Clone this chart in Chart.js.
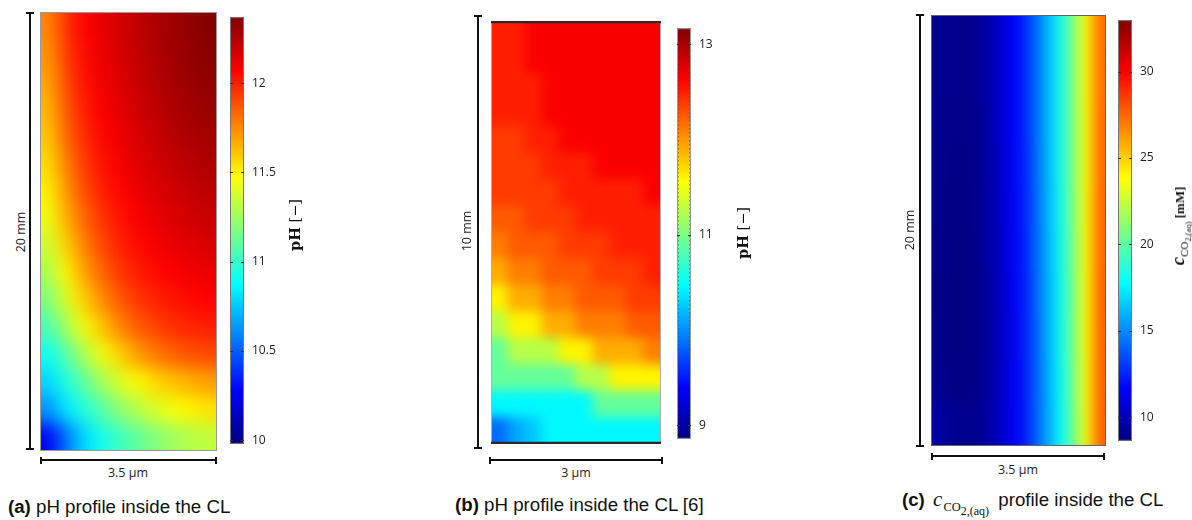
<!DOCTYPE html>
<html>
<head>
<meta charset="utf-8">
<script src="https://cdn.jsdelivr.net/npm/chart.js@4.4.1/dist/chart.umd.min.js"></script>
<style>
  body { margin: 0; background: #fff; }
  #page { position: relative; width: 1192px; height: 520px; overflow: hidden; font-family: "Open Sans", sans-serif; color: #222; }
  canvas { position: absolute; }
  .ln { position: absolute; background: #111; }
  .lbl { position: absolute; white-space: nowrap; line-height: 1; font-size: 12.5px; transform: translate(-50%, -50%); }
  .rot { transform: translate(-50%, -50%) rotate(-90deg); }
  .ttl { font-family: "DejaVu Serif", serif; font-size: 14.5px; color: #111; }
  .ttlc { font-family: "Liberation Serif", serif; color: #111; font-size: 13px; }
  .ttlc i { font-size: 19px; }
  .ttlc .s1 { font-size: 11px; vertical-align: -0.35em; }
  .ttlc .s2 { font-size: 8.5px; vertical-align: -0.3em; }
  .cap { position: absolute; white-space: nowrap; line-height: 1; font-family: "Liberation Sans", Arial, sans-serif; font-size: 18.7px; color: #111; transform: translateY(-50%); }
  .cap .c { font-family: "Liberation Serif", serif; font-style: italic; font-size: 21px; margin: 0 1px 0 3px; }
  .cap .s1 { font-family: "Liberation Serif", serif; font-size: 12.5px; vertical-align: -0.4em; margin-right: 4px; }
  .cap .s2 { font-size: 12px; vertical-align: -0.3em; }
</style>
</head>
<body>
<div id="page">
  <canvas id="heatA" width="177" height="439" style="left:40px;top:12px"></canvas>
  <canvas id="barA" width="58" height="457" style="left:230px;top:2px"></canvas>
  <canvas id="heatB" width="170" height="423" style="left:491px;top:21px"></canvas>
  <canvas id="barB" width="58" height="441" style="left:677px;top:13px"></canvas>
  <canvas id="heatC" width="175" height="431" style="left:931px;top:15px"></canvas>
  <canvas id="barC" width="58" height="451" style="left:1118px;top:5px"></canvas>

  <div class="lbl rot" style="left:21px;top:232px">20 mm</div>
  <div class="lbl" style="left:128px;top:473px">3.5 µm</div>
  <div class="lbl rot ttl" style="left:295px;top:225px"><b>pH</b> [−]</div>
  <div class="cap" style="left:8px;top:507px"><b>(a)</b> pH profile inside the CL</div>

  <div class="lbl rot" style="left:467px;top:231px">10 mm</div>
  <div class="lbl" style="left:576px;top:473px">3 µm</div>
  <div class="lbl rot ttl" style="left:743px;top:233px"><b>pH</b> [−]</div>
  <div class="cap" style="left:455px;top:505px"><b>(b)</b> pH profile inside the CL [6]</div>

  <div class="lbl rot" style="left:910px;top:230px">20 mm</div>
  <div class="lbl" style="left:1018px;top:470px">3.5 µm</div>
  <div class="lbl rot ttlc" style="left:1180px;top:226px"><b><i>c</i></b><span class="s1">CO<span class="s2">2,(aq)</span></span> <b>[mM]</b></div>
  <div class="cap" style="left:902px;top:503px"><b>(c)</b> <span class="c">c</span><span class="s1">CO<span class="s2">2,(aq)</span></span> profile inside the CL</div>
</div>

<script>
// pH inside the CL, panel (a): rows top -> bottom, columns left -> right
const PH_A_RANGE = [9.98, 12.37];
const PH_A_TICKS = [10, 10.5, 11, 11.5, 12];
const PH_A = [
  [11.75, 11.95, 12.07, 12.12, 12.17, 12.22, 12.26, 12.30, 12.33, 12.36],
  [11.72, 11.93, 12.05, 12.11, 12.16, 12.21, 12.25, 12.29, 12.32, 12.35],
  [11.68, 11.90, 12.03, 12.10, 12.15, 12.20, 12.24, 12.28, 12.31, 12.33],
  [11.64, 11.87, 12.00, 12.08, 12.13, 12.18, 12.22, 12.26, 12.29, 12.31],
  [11.60, 11.83, 11.97, 12.06, 12.11, 12.16, 12.20, 12.24, 12.27, 12.29],
  [11.55, 11.78, 11.93, 12.03, 12.09, 12.14, 12.18, 12.21, 12.24, 12.26],
  [11.50, 11.72, 11.89, 12.00, 12.06, 12.11, 12.15, 12.18, 12.21, 12.23],
  [11.44, 11.66, 11.83, 11.95, 12.03, 12.08, 12.12, 12.15, 12.18, 12.20],
  [11.36, 11.58, 11.77, 11.90, 11.99, 12.05, 12.09, 12.12, 12.14, 12.16],
  [11.27, 11.49, 11.69, 11.83, 11.94, 12.00, 12.05, 12.08, 12.10, 12.12],
  [11.17, 11.39, 11.58, 11.74, 11.86, 11.94, 11.99, 12.03, 12.05, 12.07],
  [11.05, 11.25, 11.45, 11.61, 11.75, 11.85, 11.91, 11.96, 11.99, 12.00],
  [10.90, 11.08, 11.27, 11.44, 11.58, 11.70, 11.78, 11.84, 11.88, 11.90],
  [10.78, 10.95, 11.10, 11.25, 11.38, 11.48, 11.56, 11.62, 11.66, 11.70],
  [10.62, 10.82, 10.95, 11.08, 11.20, 11.30, 11.38, 11.45, 11.50, 11.54],
  [10.25, 10.55, 10.78, 10.92, 11.02, 11.10, 11.18, 11.25, 11.30, 11.33]
];

// pH inside the CL [6], panel (b): contour bands
const PH_B_RANGE = [8.86, 13.17];
const PH_B_TICKS = [9, 11, 13];
const PH_B = [
  [12.50, 12.50, 12.65, 12.65, 12.65, 12.65, 12.65, 12.65, 12.65, 12.65],
  [12.50, 12.50, 12.65, 12.65, 12.65, 12.65, 12.65, 12.65, 12.65, 12.65],
  [12.50, 12.50, 12.50, 12.65, 12.65, 12.65, 12.65, 12.65, 12.65, 12.65],
  [12.50, 12.50, 12.50, 12.65, 12.65, 12.65, 12.65, 12.65, 12.65, 12.65],
  [12.38, 12.38, 12.50, 12.50, 12.65, 12.65, 12.65, 12.65, 12.65, 12.65],
  [12.38, 12.38, 12.38, 12.50, 12.50, 12.50, 12.65, 12.65, 12.65, 12.65],
  [12.38, 12.38, 12.38, 12.38, 12.50, 12.50, 12.50, 12.50, 12.50, 12.65],
  [12.25, 12.25, 12.38, 12.38, 12.38, 12.50, 12.50, 12.50, 12.50, 12.50],
  [12.10, 12.25, 12.25, 12.25, 12.38, 12.38, 12.38, 12.50, 12.50, 12.50],
  [11.90, 12.10, 12.10, 12.25, 12.25, 12.25, 12.38, 12.38, 12.38, 12.50],
  [11.60, 11.90, 11.90, 12.10, 12.10, 12.25, 12.25, 12.25, 12.38, 12.38],
  [11.25, 11.60, 11.60, 11.90, 11.90, 12.10, 12.10, 12.10, 12.25, 12.25],
  [10.90, 11.25, 11.25, 11.25, 11.60, 11.60, 11.90, 11.90, 11.90, 12.10],
  [10.90, 10.90, 10.90, 10.90, 10.90, 11.25, 11.25, 11.60, 11.60, 11.60],
  [10.45, 10.45, 10.45, 10.45, 10.45, 10.45, 10.90, 10.90, 10.90, 10.90],
  [9.85, 10.10, 10.25, 10.45, 10.45, 10.45, 10.45, 10.45, 10.45, 10.45]
];

// CO2(aq) concentration in mM, panel (c)
const CO2_C_RANGE = [8.63, 32.98];
const CO2_C_TICKS = [10, 15, 20, 25, 30];
const CO2_C = [
  [9.00, 8.90, 8.85, 8.95, 9.50, 10.40, 11.40, 12.45, 14.30, 16.20, 18.30, 21.00, 23.80, 27.40],
  [9.00, 8.90, 8.85, 8.95, 9.50, 10.40, 11.40, 12.45, 14.30, 16.20, 18.30, 21.00, 23.80, 27.40],
  [9.00, 8.85, 8.80, 8.90, 9.45, 10.35, 11.40, 12.45, 14.30, 16.20, 18.30, 21.00, 23.80, 27.50],
  [8.95, 8.80, 8.75, 8.85, 9.40, 10.30, 11.35, 12.40, 14.25, 16.20, 18.30, 21.00, 23.80, 27.50],
  [8.95, 8.75, 8.70, 8.80, 9.35, 10.25, 11.30, 12.35, 14.20, 16.15, 18.25, 21.00, 23.85, 27.60],
  [8.90, 8.72, 8.68, 8.78, 9.30, 10.20, 11.25, 12.30, 14.20, 16.10, 18.20, 20.95, 23.85, 27.60],
  [8.90, 8.70, 8.65, 8.75, 9.25, 10.15, 11.20, 12.25, 14.15, 16.05, 18.15, 20.90, 23.85, 27.70],
  [8.95, 8.70, 8.65, 8.75, 9.20, 10.10, 11.15, 12.20, 14.10, 16.00, 18.10, 20.90, 23.85, 27.70],
  [9.05, 8.80, 8.72, 8.78, 9.25, 10.15, 11.20, 12.20, 14.05, 15.95, 18.00, 20.80, 23.80, 27.70],
  [9.60, 9.15, 8.95, 8.95, 9.35, 10.20, 11.20, 12.20, 14.00, 15.90, 17.90, 20.70, 23.70, 27.70]
];

const JET_STOPS = [[0, '#000080'], [0.125, '#0000ff'], [0.375, '#00ffff'], [0.625, '#ffff00'], [0.875, '#ff0000'], [1, '#800000']];

function jet(v, range) {
  const t = Math.min(1, Math.max(0, (v - range[0]) / (range[1] - range[0])));
  const ch = k => Math.round(255 * Math.min(1, Math.max(0, 1.5 - Math.abs(4 * t - k))));
  return 'rgb(' + ch(3) + ',' + ch(2) + ',' + ch(1) + ')';
}

// soften the cell edges so the field reads like the shaded plot (edge pixels are extended first)
function smoothPlugin(radius) {
  return {
    id: 'smooth',
    afterDatasetsDraw(chart) {
      if (!radius) return;
      const a = chart.chartArea, ctx = chart.ctx, src = chart.canvas;
      const x0 = Math.round(a.left), y0 = Math.round(a.top);
      const w = Math.round(a.width), h = Math.round(a.height), p = radius * 3;
      const off = document.createElement('canvas');
      off.width = w + 2 * p;
      off.height = h + 2 * p;
      const o = off.getContext('2d');
      o.drawImage(src, x0, y0, w, h, p, p, w, h);
      o.drawImage(src, x0, y0, w, 1, p, 0, w, p);
      o.drawImage(src, x0, y0 + h - 1, w, 1, p, p + h, w, p);
      o.drawImage(off, p, 0, 1, h + 2 * p, 0, 0, p, h + 2 * p);
      o.drawImage(off, p + w - 1, 0, 1, h + 2 * p, p + w, 0, p, h + 2 * p);
      ctx.save();
      ctx.beginPath();
      ctx.rect(x0, y0, w, h);
      ctx.clip();
      ctx.filter = 'blur(' + radius + 'px)';
      ctx.drawImage(off, x0 - p, y0 - p);
      ctx.restore();
    }
  };
}

function framePlugin(style) {
  return {
    id: 'frame',
    afterDraw(chart) {
      const a = chart.chartArea, ctx = chart.ctx;
      ctx.save();
      ctx.strokeStyle = style.color;
      ctx.lineWidth = 1;
      ctx.strokeRect(a.left + 0.5, a.top + 0.5, a.width - 1, a.height - 1);
      if (style.topBottom) {
        ctx.strokeStyle = '#2a2a2a';
        ctx.lineWidth = 2.5;
        ctx.beginPath();
        ctx.moveTo(a.left, a.top + 1); ctx.lineTo(a.right, a.top + 1);
        ctx.moveTo(a.left, a.bottom - 1); ctx.lineTo(a.right, a.bottom - 1);
        ctx.stroke();
      }
      ctx.restore();
    }
  };
}

function heatmap(id, grid, range, style) {
  // one stacked dataset per row, bottom row first so the top row ends up on top
  const datasets = grid.slice().reverse().map(row => ({
    data: row.map(() => 1),
    backgroundColor: row.map(v => jet(v, range)),
    borderWidth: 0,
    barPercentage: 1,
    categoryPercentage: 1,
    inflateAmount: 0.6
  }));
  return new Chart(document.getElementById(id), {
    type: 'bar',
    data: { labels: grid[0].map((_, i) => i), datasets: datasets },
    options: {
      responsive: false,
      animation: false,
      events: [],
      layout: { padding: 0 },
      plugins: { legend: { display: false }, tooltip: { enabled: false } },
      scales: {
        x: { display: false, stacked: true },
        y: { display: false, stacked: true, min: 0, max: grid.length }
      }
    },
    plugins: [smoothPlugin(style.blur), framePlugin(style)]
  });
}

function colorbar(id, range, ticks, dotted) {
  const edges = {
    id: 'edges',
    afterDatasetsDraw(chart) {
      const a = chart.chartArea, ctx = chart.ctx, y = chart.scales.y;
      ctx.save();
      ctx.lineWidth = 1;
      if (dotted) {
        ctx.strokeStyle = '#333';
        ctx.setLineDash([1.3, 2.7]);
        ctx.beginPath();
        ctx.moveTo(a.left + 1, a.top); ctx.lineTo(a.left + 1, a.bottom);
        ctx.moveTo(a.right - 1, a.top); ctx.lineTo(a.right - 1, a.bottom);
        ctx.stroke();
        ctx.setLineDash([]);
        ctx.strokeStyle = '#999';
      } else {
        ctx.strokeStyle = '#777';
      }
      ctx.strokeRect(a.left + 0.5, a.top + 0.5, a.width - 1, a.height - 1);
      ctx.strokeStyle = '#333';
      ctx.beginPath();
      y.ticks.forEach(t => {
        const py = Math.round(y.getPixelForValue(t.value)) + 0.5;
        ctx.moveTo(a.left, py); ctx.lineTo(a.left + 3, py);
        ctx.moveTo(a.right - 3, py); ctx.lineTo(a.right, py);
      });
      ctx.stroke();
      ctx.restore();
    }
  };
  return new Chart(document.getElementById(id), {
    type: 'bar',
    data: {
      labels: [''],
      datasets: [{
        data: [range],
        backgroundColor: ctx => {
          const chart = ctx.chart, y = chart.scales.y;
          if (!chart.chartArea || !y) return '#888';
          const g = chart.ctx.createLinearGradient(0, y.getPixelForValue(range[0]), 0, y.getPixelForValue(range[1]));
          JET_STOPS.forEach(s => g.addColorStop(s[0], s[1]));
          return g;
        },
        borderWidth: 0,
        barPercentage: 1,
        categoryPercentage: 1
      }]
    },
    options: {
      responsive: false,
      animation: false,
      events: [],
      layout: { padding: { top: 10, bottom: 10, left: 0, right: 0 } },
      plugins: { legend: { display: false }, tooltip: { enabled: false } },
      scales: {
        x: { display: false },
        y: {
          position: 'right',
          min: range[0],
          max: range[1],
          grid: { display: false, drawTicks: false },
          border: { display: false },
          afterBuildTicks: s => { s.ticks = ticks.map(v => ({ value: v })); },
          afterFit: s => { s.width = 44; },
          ticks: {
            callback: v => String(v),
            color: '#222',
            padding: 8,
            font: { family: 'Open Sans', size: 12 }
          }
        }
      }
    },
    plugins: [edges]
  });
}

function addLine(left, top, w, h) {
  const d = document.createElement('div');
  d.className = 'ln';
  d.style.cssText = 'left:' + left + 'px;top:' + top + 'px;width:' + w + 'px;height:' + h + 'px';
  document.getElementById('page').appendChild(d);
}

function vBracket(x, y1, y2) {
  addLine(x - 1, y1, 2, y2 - y1);
  addLine(x - 4, y1 - 1, 8, 2);
  addLine(x - 4, y2 - 1, 8, 2);
}

function hBracket(y, x1, x2) {
  addLine(x1, y - 0.75, x2 - x1, 1.5);
  addLine(x1 - 0.75, y - 3.5, 1.5, 7);
  addLine(x2 - 0.75, y - 3.5, 1.5, 7);
}

heatmap('heatA', PH_A, PH_A_RANGE, { color: '#9a9a9a', blur: 9 });
colorbar('barA', PH_A_RANGE, PH_A_TICKS, false);
vBracket(30, 13, 449);
hBracket(460, 41, 216);

heatmap('heatB', PH_B, PH_B_RANGE, { color: '#b0b0b0', topBottom: true, blur: 6 });
colorbar('barB', PH_B_RANGE, PH_B_TICKS, true);
vBracket(478, 16, 448);
hBracket(460, 490, 662);

heatmap('heatC', CO2_C, CO2_C_RANGE, { color: '#666', blur: 7 });
colorbar('barC', CO2_C_RANGE, CO2_C_TICKS, false);
vBracket(920, 15, 446);
hBracket(456, 932, 1104);
</script>
</body>
</html>
